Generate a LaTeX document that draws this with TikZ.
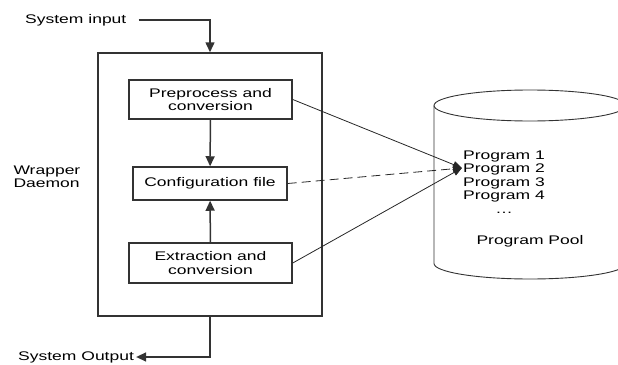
\documentclass[tikz,border=0pt]{standalone}
\usepackage{fontspec}
\setmainfont{Liberation Sans}[FakeStretch=1.4]
\usetikzlibrary{arrows.meta}

\begin{document}
\begin{tikzpicture}[x = 1pt, y = -1pt, font = \fontsize{12.5}{13.5}\selectfont,
	box/.style = {draw = black!80, line width = 1.5pt, align = center, inner sep = 0pt},
	flow/.style = {draw = black!80, line width = 1.5pt, -{Triangle[length = 10pt, width = 9pt]}},
	link/.style = {draw = black!85, line width = 0.8pt, -{Triangle[length = 9pt, width = 7pt]}}]
	%	page
	\useasboundingbox (0, 0) rectangle (618, 364);
	
	%	wrapper
	\node[box, minimum width = 224pt, minimum height = 263pt] (wrap) at (210, 184.5) {};
	\node[align = left, anchor = west] (daemon) at (10, 177) {Wrapper\\Daemon};
	
	\node[box, minimum width = 163pt, minimum height = 39pt] (prep) at (210.5, 99.5) {Preprocess and\\conversion};
	\node[box, minimum width = 154pt, minimum height = 33pt] (conf) at (210, 183.5) {Configuration file};
	\node[box, minimum width = 163pt, minimum height = 40pt] (extr) at (210.5, 263) {Extraction and\\conversion};
	
	\draw[flow] (prep) -- (conf);
	\draw[flow] (extr) -- (conf);
	
	%	in / out
	\node[anchor = west, inner sep = 0pt] (sysin) at (25, 20) {System input};
	\node[anchor = west, inner sep = 0pt] (sysout) at (18, 357) {System Output};
	\draw[flow, shorten < = 12pt] (sysin.east) -| (wrap.north);
	\draw[flow, shorten > = 2pt] (wrap.south) |- (sysout.east);
	
	%	pool
	\def\cx{530}
	\def\rx{96}
	\def\ry{15.5}
	\draw[line width = 0.9pt, black!80] (\cx, 105.5) ellipse ({\rx} and {\ry});
	\draw[line width = 0.9pt, black!80] (\cx - \rx, 105.5) -- (\cx - \rx, 263.5) arc (180:0:{\rx} and {\ry}) -- (\cx + \rx, 105.5);
	\node[align = center] (progs) at (504, 182) {Program 1\\Program 2\\Program 3\\Program 4\\\dots};
	\node (pool) at (530, 241) {Program Pool};
	\coordinate (poolin) at (462, 168);
	
	\draw[link] (prep.east) -- (poolin);
	\draw[link, dashed, dash pattern = on 9pt off 5pt] (conf.east) -- (poolin);
	\draw[link] (extr.east) -- (poolin);
\end{tikzpicture}
\end{document}
